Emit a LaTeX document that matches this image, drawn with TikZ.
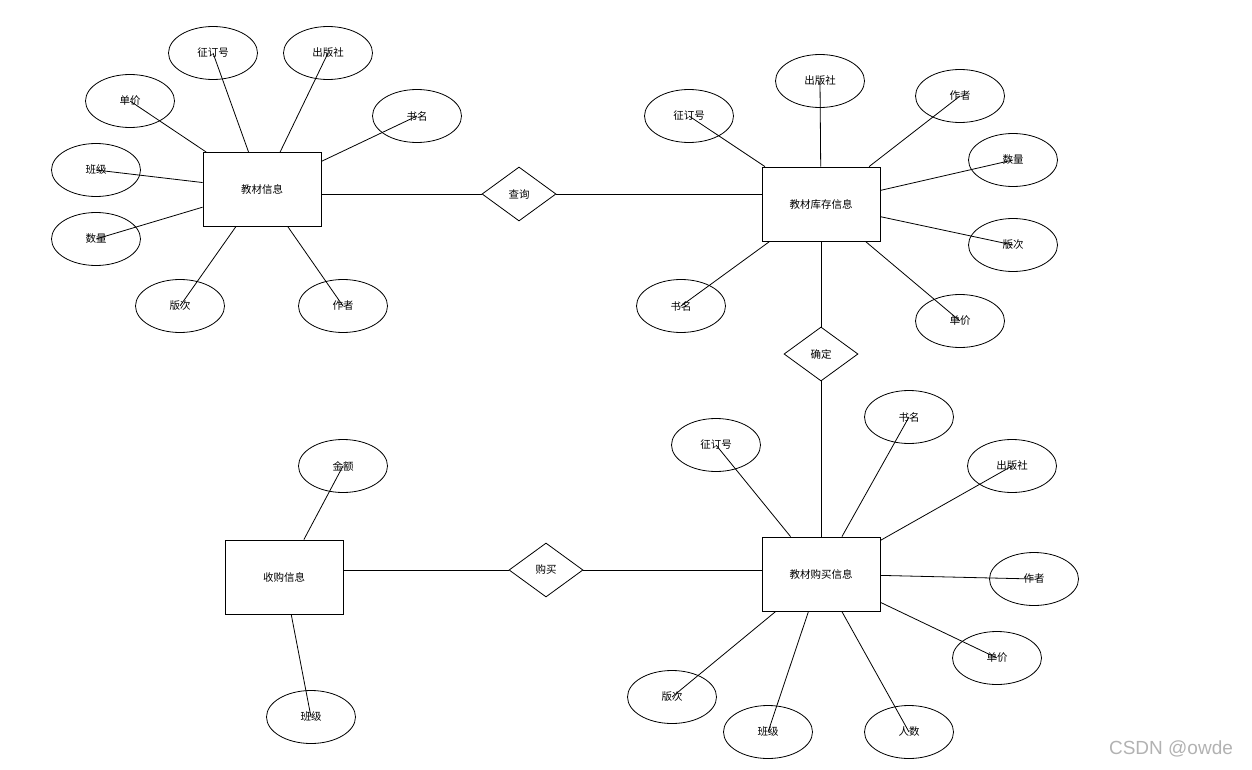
\documentclass[tikz,border=0pt]{standalone}
\usepackage{fontspec}
\setmainfont{Noto Sans CJK SC}
\newfontfamily\wmfont{Liberation Sans}
\usetikzlibrary{shapes.geometric}
\begin{document}
\begin{tikzpicture}[x=1pt,y=-1pt,line width=0.8pt,
    every node/.style={font=\fontsize{10.5}{12}\selectfont},
    entity/.style={draw,rectangle,minimum width=118pt,minimum height=74pt,inner sep=0pt},
    attr/.style={draw,ellipse,minimum width=89pt,minimum height=53pt,inner sep=0pt},
    rel/.style={draw,diamond,minimum width=74pt,minimum height=54pt,inner sep=0pt}]
    \useasboundingbox (0,0) rectangle (1252,770);
    % 教材信息
    \node[entity] (jc) at (262,189.5) {教材信息};
    \node[attr] (jc-zdh) at (213,53) {征订号};
    \node[attr] (jc-cbs) at (328,53) {出版社};
    \node[attr] (jc-dj) at (130,101) {单价};
    \node[attr] (jc-sm) at (417,116) {书名};
    \node[attr] (jc-bj) at (96,170) {班级};
    \node[attr] (jc-sl) at (96,239) {数量};
    \node[attr] (jc-bc) at (180,306) {版次};
    \node[attr] (jc-zz) at (343,306) {作者};
    \draw (jc) -- (jc-zdh.center);
    \draw (jc) -- (jc-cbs.center);
    \draw (jc) -- (jc-dj.center);
    \draw (jc) -- (jc-sm.center);
    \draw (jc) -- (jc-bj.center);
    \draw (jc) -- (jc-sl.center);
    \draw (jc) -- (jc-bc.center);
    \draw (jc) -- (jc-zz.center);
    % 教材库存信息
    \node[rel] (cx) at (519,194) {查询};
    \node[entity] (kc) at (821,204) {教材库存信息};
    \node[attr] (kc-zdh) at (689,116) {征订号};
    \node[attr] (kc-cbs) at (820,81) {出版社};
    \node[attr] (kc-zz) at (960,96) {作者};
    \node[attr] (kc-sl) at (1013,160) {数量};
    \node[attr] (kc-bc) at (1013,245) {版次};
    \node[attr] (kc-dj) at (960,321) {单价};
    \node[attr] (kc-sm) at (681,306) {书名};
    \draw (cx.west) -- (cx.west -| jc.east);
    \draw (cx.east) -- (cx.east -| kc.west);
    \draw (kc) -- (kc-zdh.center);
    \draw (kc) -- (kc-cbs.center);
    \draw (kc) -- (kc-zz.center);
    \draw (kc) -- (kc-sl.center);
    \draw (kc) -- (kc-bc.center);
    \draw (kc) -- (kc-dj.center);
    \draw (kc) -- (kc-sm.center);
    % 教材购买信息
    \node[rel] (qd) at (821,354) {确定};
    \node[entity] (gm) at (821,574) {教材购买信息};
    \node[attr] (gm-zdh) at (716,445) {征订号};
    \node[attr] (gm-sm) at (909,417) {书名};
    \node[attr] (gm-cbs) at (1012,466) {出版社};
    \node[attr] (gm-zz) at (1034,579) {作者};
    \node[attr] (gm-dj) at (997,658) {单价};
    \node[attr] (gm-rs) at (909,732) {人数};
    \node[attr] (gm-bj) at (768,732) {班级};
    \node[attr] (gm-bc) at (672,697) {版次};
    \draw (kc) -- (qd);
    \draw (qd) -- (gm);
    \draw (gm) -- (gm-zdh.center);
    \draw (gm) -- (gm-sm.center);
    \draw (gm) -- (gm-cbs.center);
    \draw (gm) -- (gm-zz.center);
    \draw (gm) -- (gm-dj.center);
    \draw (gm) -- (gm-rs.center);
    \draw (gm) -- (gm-bj.center);
    \draw (gm) -- (gm-bc.center);
    % 收购信息
    \node[rel] (mai) at (546,570) {购买};
    \node[entity] (sg) at (284,577) {收购信息};
    \node[attr] (sg-je) at (343,466) {金额};
    \node[attr] (sg-bj) at (311,717) {班级};
    \draw (mai.west) -- (mai.west -| sg.east);
    \draw (mai.east) -- (mai.east -| gm.west);
    \draw (sg) -- (sg-je.center);
    \draw (sg) -- (sg-bj.center);
    \node[font=\wmfont\fontsize{19}{22}\selectfont,text=black!30] (wm) at (1171,749) {CSDN @owde};
\end{tikzpicture}
\end{document}
